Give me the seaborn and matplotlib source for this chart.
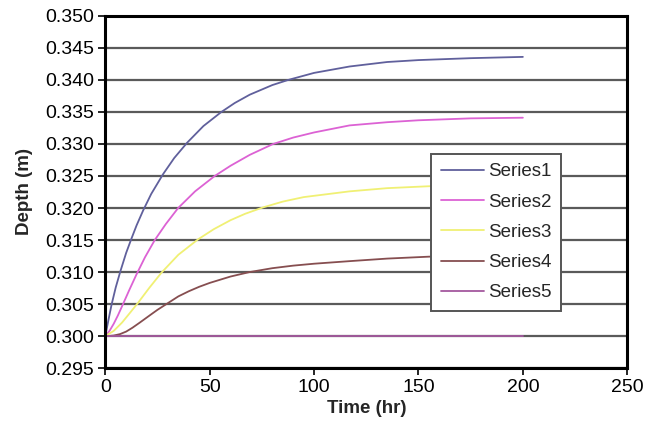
import matplotlib
matplotlib.use('Agg')
import matplotlib.pyplot as plt
import seaborn as sns
import pandas as pd

# values
t1 = [0, 1.5, 3, 5, 7.3, 10, 12.5, 15, 18.1, 22, 27.7, 33, 39.2, 47, 55.6, 62, 69.2, 80, 87.6,
      100, 117, 135, 150, 175, 200]
s1 = [0.300, 0.3025, 0.3049, 0.3076, 0.3102, 0.3130, 0.3152, 0.3173, 0.3196, 0.3222, 0.3253,
      0.3278, 0.3302, 0.3328, 0.3350, 0.3364, 0.3377, 0.3392, 0.3400, 0.3411, 0.3421, 0.3428,
      0.3431, 0.3434, 0.3436]

t2 = [0, 2, 4, 6, 8.5, 11.5, 14.9, 19, 23.7, 29, 34.9, 43, 52.4, 60, 69.2, 80.4, 90, 100, 117,
      135, 150, 175, 200]
s2 = [0.300, 0.3008, 0.3019, 0.3032, 0.305, 0.3072, 0.3096, 0.3123, 0.315, 0.3175, 0.320,
      0.3226, 0.325, 0.3266, 0.3283, 0.330, 0.3310, 0.3318, 0.3329, 0.3334, 0.3337, 0.3340,
      0.3341]

t3 = [0, 4, 8, 12, 15.7, 21, 26.9, 35, 44.4, 52, 60, 67, 75.6, 85, 95, 117, 135, 155, 175, 200]
s3 = [0.300, 0.3008, 0.3021, 0.3037, 0.3052, 0.3075, 0.3099, 0.3127, 0.3151, 0.3167, 0.3181,
      0.3191, 0.3201, 0.3210, 0.3217, 0.3226, 0.3231, 0.3234, 0.3236, 0.3238]

t4 = [0, 2, 4, 7, 10, 13, 16.5, 22, 25, 29.3, 35, 40, 45, 50, 55, 60, 69.2, 80, 90, 100, 117,
      135, 155, 175, 200]
s4 = [0.300, 0.30002, 0.30008, 0.3003, 0.3007, 0.3013, 0.3021, 0.3034, 0.3041, 0.305, 0.3062,
      0.3070, 0.3077, 0.3083, 0.3088, 0.3093, 0.3100, 0.3106, 0.3110, 0.3113, 0.3117, 0.3121,
      0.3124, 0.3125, 0.3126]

t5 = [0, 50, 100, 150, 200]
s5 = [0.300, 0.300, 0.300, 0.300, 0.300]

names = ['Series1', 'Series2', 'Series3', 'Series4', 'Series5']
colors = ['#60609c', '#dc62d4', '#f0f074', '#864e50', '#a4589e']

frames = []
for name, t, s in zip(names, [t1, t2, t3, t4, t5], [s1, s2, s3, s4, s5]):
    frames.append(pd.DataFrame({'time': t, 'depth': s, 'series': name}))
df = pd.concat(frames, ignore_index=True)

sns.set_style('white')
plt.rcParams['font.family'] = ['Liberation Sans', 'DejaVu Sans']

fig = plt.figure(figsize=(6.46, 4.30), dpi=100)
ax = fig.add_axes([0.163, 0.144, 0.808, 0.819])

sns.lineplot(data=df, x='time', y='depth', hue='series', palette=colors,
             linewidth=1.3, ax=ax, sort=False)

ax.set_xlim(0, 250)
ax.set_ylim(0.295, 0.350)
ax.set_xticks(range(0, 251, 50))
ax.set_yticks([0.295 + 0.005 * i for i in range(12)])
ax.set_yticklabels([f'{0.295 + 0.005 * i:.3f}' for i in range(12)])
ax.yaxis.grid(True, color='#5a5a5a', linewidth=1.6)
ax.set_axisbelow(True)

for sp in ax.spines.values():
    sp.set_color('black')
    sp.set_linewidth(2.2)
ax.tick_params(axis='both', direction='out', length=5, width=1.2,
               colors='black', labelsize=14, left=True, bottom=True, pad=3)

ax.set_xlabel('Time (hr)', fontsize=13.5, fontweight='bold', labelpad=3)
ax.set_ylabel('Depth (m)', fontsize=13.5, fontweight='bold', labelpad=9)

leg = ax.legend(loc='upper left', bbox_to_anchor=(0.6245, 0.608), borderaxespad=0,
                fontsize=13.5, frameon=True, fancybox=False,
                labelspacing=0.7, handlelength=2.3, borderpad=0.5,
                handletextpad=0.25)
leg.get_frame().set_edgecolor('#555555')
leg.get_frame().set_linewidth(1.4)
leg.get_frame().set_alpha(1)

fig.savefig('out.png', dpi=100)
